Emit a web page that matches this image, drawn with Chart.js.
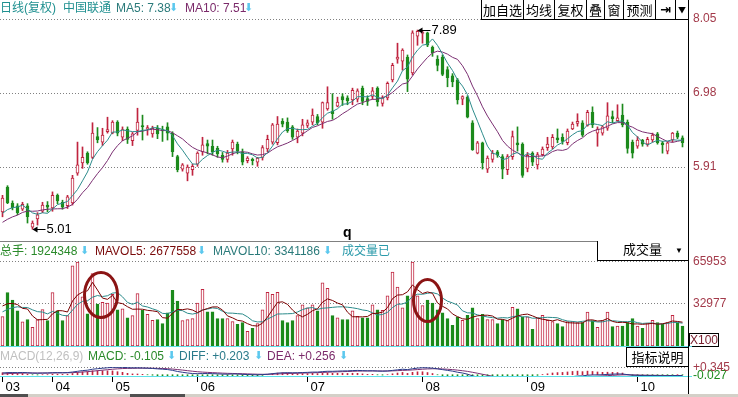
<!DOCTYPE html>
<html lang="zh-CN">
<head>
<meta charset="UTF-8">
<title>中国联通 日线(复权)</title>
<script src="https://cdn.jsdelivr.net/npm/chart.js"></script>
<style>
  body { margin: 0; background: #fff; }
  #stage { position: relative; width: 738px; height: 397px; overflow: hidden;
           font-family: "Liberation Sans", "Noto Sans CJK SC", sans-serif; }
  canvas { position: absolute; left: 0; }
  .t { position: absolute; white-space: nowrap; font-size: 12px; line-height: 14px; }
  .dn { color: #5cc8ee; font-family: "DejaVu Sans"; font-size: 11px; }
  .btn { position: absolute; top: -1px; height: 21px; box-sizing: border-box; border: 1px solid #000;
         background: #fff; font-size: 13px; line-height: 19px; text-align: center; color: #000;
         font-family: "Noto Sans CJK SC", sans-serif; }
  .line { position: absolute; }
</style>
</head>
<body>
<div id="stage">
  <canvas id="price" width="738" height="241" style="top:0"></canvas>
  <canvas id="volume" width="738" height="105" style="top:241px"></canvas>
  <canvas id="macd" width="738" height="50" style="top:347px"></canvas>

  <!-- price header -->
  <span class="t" style="left:0;top:1px;color:#1f9090">日线(复权)</span>
  <span class="t" style="left:63px;top:1px;color:#1f9090">中国联通</span>
  <span class="t" style="left:116px;top:1px;color:#2a7a7a">MA5: 7.38</span>
  <span class="t dn" style="left:169px;top:1px">⬇</span>
  <span class="t" style="left:185px;top:1px;color:#7b2a6a">MA10: 7.51</span>
  <span class="t dn" style="left:244px;top:1px">⬇</span>

  <div class="btn" style="left:481px;width:43px">加自选</div>
  <div class="btn" style="left:523px;width:32px">均线</div>
  <div class="btn" style="left:554px;width:33px">复权</div>
  <div class="btn" style="left:586px;width:19px">叠</div>
  <div class="btn" style="left:604px;width:20px">窗</div>
  <div class="btn" style="left:623px;width:33px">预测</div>
  <div class="btn" style="left:655px;width:21px;font-family:'DejaVu Sans';font-weight:bold">⇥</div>
  <div class="btn" style="left:675px;width:14px;font-size:8px">▼</div>

  <span class="t" style="left:343px;top:225px;font-weight:bold;font-size:14px">q</span>

  <!-- volume header -->
  <div class="line" style="left:0;top:241px;width:689px;height:1px;background:#808080"></div>
  <span class="t" style="left:0;top:244px;color:#2a8a2a">总手: 1924348</span>
  <span class="t dn" style="left:80px;top:244px">⬇</span>
  <span class="t" style="left:95px;top:244px;color:#7a0a0a">MAVOL5: 2677558</span>
  <span class="t dn" style="left:197px;top:244px">⬇</span>
  <span class="t" style="left:213px;top:244px;color:#2a7a7a">MAVOL10: 3341186</span>
  <span class="t dn" style="left:323px;top:244px">⬇</span>
  <span class="t" style="left:342px;top:244px;color:#2a9aaa">成交量已</span>
  <div style="position:absolute;left:597px;top:241px;width:92px;height:20px;box-sizing:border-box;border-left:1px solid #000;border-bottom:1px solid #000;background:#fff">
    <span class="t" style="left:25px;top:2px;font-size:13px;color:#000">成交量</span>
    <span class="t" style="left:77px;top:3px;font-size:8px;color:#000">▼</span>
  </div>
  <div style="position:absolute;left:689px;top:333px;width:30px;height:14px;box-sizing:border-box;border:1px solid #000;font-size:12px;line-height:12px;color:#7a2030;text-align:center">X100</div>

  <!-- macd header -->
  <div class="line" style="left:0;top:346px;width:692px;height:1px;background:#5ce0e8"></div>
  <div class="line" style="left:0;top:376px;width:692px;height:1px;background:#5ce0e8"></div>
  <span class="t" style="left:0;top:349px;color:#c0c0c0">MACD(12,26,9)</span>
  <span class="t" style="left:88px;top:349px;color:#2a8a2a">MACD: -0.105</span>
  <span class="t dn" style="left:167px;top:349px">⬇</span>
  <span class="t" style="left:179px;top:349px;color:#2a7a8a">DIFF: +0.203</span>
  <span class="t dn" style="left:254px;top:349px">⬇</span>
  <span class="t" style="left:267px;top:349px;color:#7b2a6a">DEA: +0.256</span>
  <span class="t dn" style="left:339px;top:349px">⬇</span>
  <div style="position:absolute;left:626px;top:347px;width:63px;height:20px;box-sizing:border-box;border:1px solid #000;background:#fff;font-size:13px;line-height:18px;text-align:center;font-family:'Noto Sans CJK SC'">指标说明</div>

  <div class="line" style="left:688px;top:0;width:1px;height:394px;background:#000"></div>
  <div class="line" style="left:0;top:394px;width:738px;height:3px;background:#d4d0c8"></div>
  <div class="line" style="left:0;top:394px;width:28px;height:3px;background:#505050"></div>
  <div class="line" style="left:130px;top:394px;width:55px;height:3px;background:#505050"></div>
</div>

<script>
// daily bars, March to October
const opens = [5.26,5.62,5.39,5.35,5.30,5.35,5.04,5.16,5.27,5.36,
  5.32,5.50,5.40,5.35,5.39,5.82,5.97,6.11,6.05,6.35,
  6.27,6.42,6.40,6.56,6.34,6.46,6.29,6.44,6.51,6.46,
  6.39,6.47,6.45,6.49,6.40,6.06,5.88,5.82,5.87,5.95,
  6.13,6.25,6.21,6.18,6.08,6.02,6.17,6.24,6.13,6.00,
  6.02,5.98,6.05,6.17,6.27,6.26,6.57,6.56,6.49,6.34,
  6.40,6.51,6.56,6.64,6.56,6.75,6.72,6.79,6.93,6.91,
  6.88,6.89,7.05,6.90,6.93,7.05,6.83,6.91,7.17,7.47,
  7.44,7.50,7.27,7.80,7.84,7.85,7.64,7.47,7.50,7.32,
  7.23,7.17,6.89,6.92,6.55,6.11,6.26,5.88,6.02,6.13,
  6.06,5.87,6.06,6.26,6.24,5.89,6.11,5.94,6.09,6.19,
  6.20,6.33,6.34,6.26,6.46,6.54,6.55,6.51,6.70,6.40,
  6.40,6.47,6.64,6.58,6.66,6.56,6.27,6.21,6.30,6.24,
  6.30,6.39,6.26,6.14,6.30,6.40,6.33];
const highs = [5.50,5.64,5.42,5.38,5.40,5.38,5.13,5.25,5.40,5.41,
  5.55,5.52,5.43,5.50,5.79,6.27,6.20,6.13,6.55,6.48,
  6.47,6.63,6.58,6.58,6.49,6.49,6.41,6.76,6.66,6.51,
  6.50,6.51,6.50,6.55,6.42,6.08,5.96,5.94,5.95,6.13,
  6.34,6.30,6.30,6.21,6.12,6.15,6.30,6.27,6.17,6.06,
  6.04,6.05,6.22,6.37,6.54,6.64,6.61,6.62,6.51,6.46,
  6.60,6.59,6.75,6.67,6.85,7.07,6.97,6.92,6.97,6.94,
  7.05,7.04,7.08,6.94,7.06,7.07,6.94,7.14,7.41,7.70,
  7.62,7.53,7.88,7.89,7.87,7.86,7.66,7.52,7.53,7.36,
  7.26,7.19,6.94,6.94,6.58,6.28,6.27,6.07,6.15,6.15,
  6.09,6.09,6.43,6.49,6.26,6.12,6.13,6.12,6.20,6.34,
  6.38,6.46,6.39,6.46,6.56,6.68,6.58,6.73,6.78,6.49,
  6.51,6.84,6.72,6.81,6.82,6.59,6.30,6.35,6.31,6.34,
  6.40,6.41,6.28,6.27,6.41,6.43,6.36];
const lows = [5.19,5.38,5.29,5.22,5.28,5.10,5.01,5.07,5.25,5.26,
  5.27,5.38,5.30,5.31,5.36,5.79,5.89,5.95,6.03,6.26,
  6.22,6.40,6.39,6.36,6.29,6.25,6.22,6.37,6.30,6.37,
  6.34,6.32,6.28,6.30,6.06,5.84,5.85,5.71,5.79,5.92,
  6.08,6.10,6.08,6.05,5.98,5.98,6.08,6.10,5.94,5.97,
  5.94,5.92,6.01,6.13,6.24,6.23,6.49,6.41,6.31,6.26,
  6.36,6.48,6.52,6.52,6.47,6.73,6.60,6.78,6.80,6.81,
  6.81,6.85,6.81,6.80,6.89,6.79,6.79,6.88,7.14,7.41,
  7.31,7.00,7.24,7.67,7.70,7.65,7.51,7.30,7.23,7.07,
  7.07,6.82,6.81,6.62,6.15,6.10,5.88,5.83,5.98,6.05,
  5.74,5.80,6.02,6.14,5.76,5.84,5.93,5.88,6.07,6.15,
  6.17,6.26,6.24,6.23,6.45,6.50,6.35,6.50,6.48,6.21,
  6.37,6.44,6.55,6.57,6.49,6.11,6.04,6.18,6.21,6.21,
  6.27,6.24,6.11,6.10,6.27,6.32,6.20];
const closes = [5.46,5.39,5.32,5.25,5.37,5.19,5.10,5.22,5.36,5.33,
  5.50,5.42,5.33,5.48,5.75,5.94,6.05,5.97,6.40,6.30,
  6.37,6.45,6.56,6.40,6.45,6.31,6.39,6.56,6.49,6.48,
  6.47,6.39,6.43,6.40,6.13,5.87,5.94,5.91,5.92,6.11,
  6.23,6.21,6.13,6.10,6.02,6.11,6.27,6.14,5.98,6.04,
  6.00,6.04,6.19,6.31,6.52,6.53,6.53,6.43,6.34,6.43,
  6.52,6.55,6.66,6.55,6.84,6.84,6.68,6.85,6.88,6.87,
  7.02,7.01,6.86,6.86,7.01,6.85,6.91,7.12,7.38,7.50,
  7.60,7.18,7.85,7.87,7.86,7.67,7.56,7.38,7.25,7.20,
  7.14,6.88,6.93,6.63,6.16,6.26,5.97,6.04,6.11,6.08,
  5.88,6.06,6.35,6.23,5.79,6.08,5.98,6.09,6.17,6.24,
  6.34,6.30,6.28,6.43,6.53,6.57,6.37,6.70,6.52,6.46,
  6.49,6.65,6.61,6.62,6.52,6.18,6.11,6.30,6.24,6.31,
  6.37,6.26,6.23,6.26,6.40,6.34,6.26];
// volume in hands x100
const volumes = [23000,42000,36000,27600,19000,20700,14600,20700,28600,20000,
  42000,27600,20000,23800,63000,65953,38600,25300,56800,33000,
  34300,33700,40600,28400,29200,22200,23800,41200,27900,24800,
  20200,20700,17600,26000,43700,35300,20000,20700,21500,33700,
  44500,26800,26800,21500,21500,21500,19200,17100,18400,11500,
  13800,17600,28400,42200,40600,42200,20000,18400,20000,23800,
  32400,29900,32400,27600,49600,45300,23800,22200,20700,20700,
  27600,23200,22200,22200,32400,28400,27900,39300,58000,46200,
  29900,39300,65953,39300,31700,36000,33700,28400,26000,21500,
  16300,22800,20200,24000,29900,21500,24800,20700,20700,17600,
  20700,20000,30400,29200,22800,22800,13000,22200,24000,20200,
  19200,17600,15300,19200,19200,18400,18400,26600,20000,14600,
  20000,26600,15300,15600,15600,18400,21500,15600,13800,17600,
  20200,18400,17100,18400,24000,18400,15600];
// sessions before the window, only used to start the averages
const earlierCloses = [4.95,4.97,5.00,4.98,5.00,5.12,5.18,5.20,5.24];
const earlierVolumes = [22000,23000,21000,24000,21000,33000,35000,32000,34000];

const monthStarts = [0, 10, 22, 39, 61, 84, 105, 127];
const monthLabels = ['03', '04', '05', '06', '07', '08', '09', '10'];
const priceTicks = [5.91, 6.98, 8.05];
const volumeTicks = [32977, 65953];
const macdTicks = [-0.027, 0.345];
// the two circled spots on the volume panel
const circledSpots = [{ index: 19.7, value: 39960 }, { index: 85.0, value: 35690 }];

const RED = '#c0243f';
const GREEN = '#1c8a1c';
const AXIS_RED = '#a33a4a';

Chart.defaults.font.family = '"Liberation Sans", sans-serif';
Chart.defaults.font.size = 12;

const labels = closes.map((_, i) => {
    const k = monthStarts.indexOf(i);
    return k >= 0 ? monthLabels[k] : '';
});
const up = closes.map((c, i) => c >= opens[i]);
const candleColor = up.map(u => u ? RED : GREEN);
const hollowFill = up.map(u => u ? '#fff' : GREEN);

function movingAverage(values, earlier, n) {
    const all = earlier.concat(values);
    return values.map((_, i) => {
        const end = earlier.length + i + 1;
        const win = all.slice(Math.max(0, end - n), end);
        return win.reduce((a, b) => a + b, 0) / win.length;
    });
}

function ema(series, n) {
    const k = 2 / (n + 1);
    let e = series[0];
    return series.map(v => (e = e + k * (v - e)));
}

const ma5 = movingAverage(closes, earlierCloses, 5);
const ma10 = movingAverage(closes, earlierCloses, 10);
const mavol5 = movingAverage(volumes, earlierVolumes, 5);
const mavol10 = movingAverage(volumes, earlierVolumes, 10);

const allCloses = earlierCloses.concat(closes);
const e12 = ema(allCloses, 12);
const e26 = ema(allCloses, 26);
const diffAll = e12.map((v, i) => v - e26[i]);
const deaAll = ema(diffAll, 9);
const diff = diffAll.slice(earlierCloses.length);
const dea = deaAll.slice(earlierCloses.length);
const macdHist = diff.map((d, i) => 2 * (d - dea[i]));

function rightAxis(min, max, ticks, fmt, color, gridColor) {
    return {
        position: 'right', min, max,
        afterBuildTicks(s) { s.ticks = ticks.map(v => ({ value: v })); },
        afterFit(s) { s.width = 53; s.paddingTop = 0; s.paddingBottom = 0; },
        border: { display: false, dash: [1, 2] },
        grid: { color: gridColor || '#808080', drawTicks: false },
        ticks: { autoSkip: false, padding: 8, color, callback: fmt }
    };
}

const hiddenX = { display: false, grid: { offset: true } };
const baseOptions = {
    responsive: false, animation: false, events: [],
    plugins: { legend: { display: false }, tooltip: { enabled: false } }
};

// arrows to the highest and lowest price
function drawTag(ctx, px, py, text) {
    ctx.save();
    ctx.strokeStyle = '#000';
    ctx.fillStyle = '#000';
    ctx.lineWidth = 1;
    const y = Math.round(py) + 0.5;
    ctx.beginPath();
    ctx.moveTo(px + 2, y);
    ctx.lineTo(px + 13, y);
    ctx.stroke();
    ctx.beginPath();
    ctx.moveTo(px, y);
    ctx.lineTo(px + 5, y - 3);
    ctx.lineTo(px + 5, y + 3);
    ctx.closePath();
    ctx.fill();
    ctx.font = '13px "Liberation Sans"';
    ctx.textBaseline = 'middle';
    ctx.fillText(text, px + 14, y);
    ctx.restore();
}

const extremesPlugin = {
    id: 'extremes',
    afterDatasetsDraw(chart) {
        const { ctx, scales: { x, y } } = chart;
        let hi = 0, lo = 0;
        highs.forEach((v, i) => { if (v > highs[hi]) hi = i; });
        lows.forEach((v, i) => { if (v < lows[lo]) lo = i; });
        drawTag(ctx, x.getPixelForValue(hi), y.getPixelForValue(highs[hi]), highs[hi].toFixed(2));
        drawTag(ctx, x.getPixelForValue(lo), y.getPixelForValue(lows[lo]), lows[lo].toFixed(2));
    }
};

const circlePlugin = {
    id: 'circles',
    afterDatasetsDraw(chart) {
        const { ctx, scales: { x, y } } = chart;
        const sizes = [[16.5, 22.5], [14, 21]];
        ctx.save();
        ctx.strokeStyle = '#8b1414';
        ctx.lineWidth = 3;
        circledSpots.forEach((s, k) => {
            ctx.beginPath();
            ctx.ellipse(x.getPixelForValue(s.index), y.getPixelForValue(s.value), sizes[k][0], sizes[k][1], 0, 0, Math.PI * 2);
            ctx.stroke();
        });
        ctx.restore();
    }
};

new Chart(document.getElementById('price'), {
    type: 'bar',
    data: {
        labels,
        datasets: [
            { type: 'line', data: ma5, borderColor: '#2e8c8c', borderWidth: 1, pointRadius: 0, order: 0 },
            { type: 'line', data: ma10, borderColor: '#7b2f72', borderWidth: 1, pointRadius: 0, order: 0 },
            {
                data: opens.map((o, i) => [o, closes[i]]),
                backgroundColor: hollowFill, borderColor: candleColor, borderWidth: 1,
                borderSkipped: false, barThickness: 3, minBarLength: 1, grouped: false, order: 1
            },
            {
                data: lows.map((l, i) => [l, highs[i]]),
                backgroundColor: candleColor, borderWidth: 0,
                barThickness: 1, grouped: false, order: 2
            }
        ]
    },
    options: {
        ...baseOptions,
        layout: { padding: { top: 19, left: 0, right: 0, bottom: 0 } },
        scales: {
            x: hiddenX,
            y: rightAxis(4.84, 8.05, priceTicks, v => v.toFixed(2), AXIS_RED)
        }
    },
    plugins: [extremesPlugin]
});

new Chart(document.getElementById('volume'), {
    type: 'bar',
    data: {
        labels,
        datasets: [
            { type: 'line', data: mavol5, borderColor: '#7a0000', borderWidth: 1, pointRadius: 0, order: 0 },
            { type: 'line', data: mavol10, borderColor: '#2a8a8a', borderWidth: 1, pointRadius: 0, order: 0 },
            {
                data: volumes, backgroundColor: hollowFill, borderColor: candleColor, borderWidth: 1,
                borderSkipped: false, barThickness: 3, grouped: false, order: 1
            }
        ]
    },
    options: {
        ...baseOptions,
        layout: { padding: { top: 19, left: 0, right: 0, bottom: 0 } },
        scales: {
            x: hiddenX,
            y: rightAxis(0, 67500, volumeTicks, v => String(v), AXIS_RED)
        }
    },
    plugins: [circlePlugin]
});

new Chart(document.getElementById('macd'), {
    type: 'bar',
    data: {
        labels,
        datasets: [
            { type: 'line', data: diff, borderColor: '#2a3a8a', borderWidth: 1, pointRadius: 0, order: 0 },
            { type: 'line', data: dea, borderColor: '#7b2f72', borderWidth: 1, pointRadius: 0, order: 0 },
            {
                data: macdHist, backgroundColor: macdHist.map(v => v >= 0 ? RED : GREEN),
                barThickness: 1, grouped: false, order: 1
            }
        ]
    },
    options: {
        ...baseOptions,
        layout: { padding: { top: 20, left: 0, right: 0, bottom: 0 } },
        scales: {
            x: {
                afterFit(s) { s.height = 21; s.paddingLeft = 0; s.paddingRight = 0; },
                border: { display: false },
                grid: {
                    offset: false, drawOnChartArea: false, tickLength: 6,
                    color: ctx => labels[ctx.index] ? '#000' : 'rgba(0,0,0,0)'
                },
                ticks: {
                    autoSkip: false, maxRotation: 0, minRotation: 0, align: 'start',
                    labelOffset: 3, padding: -2, color: '#000', font: { size: 13 }
                }
            },
            y: rightAxis(-0.06, 0.36, macdTicks, v => (v > 0 ? '+' : '') + v.toFixed(3),
                ctx => ctx.tick.value > 0 ? AXIS_RED : GREEN,
                ctx => ctx.tick.value > 0 ? '#808080' : 'rgba(0,0,0,0)')
        }
    }
});
</script>
</body>
</html>
